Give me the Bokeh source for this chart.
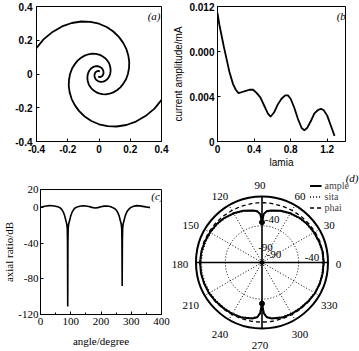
import numpy as np
from bokeh.plotting import figure
from bokeh.layouts import row, column
from bokeh.models import FixedTicker, Label, Legend, LegendItem, ColumnDataSource
from bokeh.core.properties import value
from bokeh.embed import file_html
from bokeh.resources import INLINE

# ---------------- data ----------------
# (a) two-arm spiral, read as radius per polar angle (second arm is the first turned by 180 deg)
spiral_angle_deg = list(range(0, -660, -10))
spiral_radius = [0.480, 0.455, 0.432, 0.410, 0.388, 0.368, 0.349, 0.331, 0.314, 0.298,
                 0.283, 0.268, 0.254, 0.241, 0.229, 0.217, 0.206, 0.195, 0.185, 0.176,
                 0.166, 0.158, 0.150, 0.142, 0.135, 0.128, 0.121, 0.115, 0.109, 0.103,
                 0.098, 0.093, 0.088, 0.083, 0.079, 0.075, 0.071, 0.068, 0.064, 0.061,
                 0.058, 0.055, 0.052, 0.049, 0.047, 0.044, 0.042, 0.040, 0.038, 0.036,
                 0.034, 0.032, 0.031, 0.029, 0.028, 0.026, 0.025, 0.024, 0.022, 0.021,
                 0.020, 0.019, 0.018, 0.017, 0.016, 0.015]
a_ticks = [-0.4, -0.2, 0, 0.2, 0.4]
a_tick_labels = ["-0.4", "-0.2", "0", "0.2", "0.4"]

# (b) current amplitude vs lamia
lamia = [0.00, 0.02, 0.04, 0.07, 0.10, 0.13, 0.17, 0.20, 0.23, 0.27, 0.31, 0.35, 0.39,
         0.43, 0.47, 0.51, 0.55, 0.58, 0.62, 0.66, 0.70, 0.74, 0.77, 0.80, 0.84, 0.88,
         0.92, 0.95, 0.98, 1.02, 1.06, 1.10, 1.13, 1.16, 1.20, 1.24, 1.28]
current_amp = [0.0114, 0.0104, 0.0096, 0.0084, 0.0073, 0.0062, 0.0051, 0.0046, 0.0043,
               0.0044, 0.0045, 0.0046, 0.0046, 0.0043, 0.0039, 0.0032, 0.0025, 0.0022,
               0.0026, 0.0033, 0.0038, 0.0041, 0.0041, 0.0038, 0.0030, 0.0020, 0.0012,
               0.0010, 0.0012, 0.0018, 0.0025, 0.0028, 0.0029, 0.0028, 0.0023, 0.0014,
               0.0005]
b_xticks = [0, 0.4, 0.8, 1.2]
b_xtick_labels = ["0", "0.4", "0.8", "1.2"]
b_yticks = [0, 0.004, 0.008, 0.012]
b_ytick_labels = ["0", "0.004", "0.000", "0.012"]

# (c) axial ratio vs angle
c_angle = [0, 10, 20, 30, 40, 50, 60, 66, 70, 75, 80, 84, 87, 88.5, 89.3, 90, 90.7, 91.5,
           93, 96, 100, 105, 110, 114, 120, 130, 140, 150, 160, 170, 180, 190, 200, 210,
           220, 230, 240, 245, 250, 255, 260, 264, 267, 268.5, 269.3, 270, 270.7, 271.5,
           273, 276, 280, 285, 290, 296, 302, 310, 318, 328, 338, 348, 356, 362]
c_axial_ratio = [0, 0.9, 1.6, 1.9, 1.8, 1.2, 0.3, -0.8, -2.2, -5, -9.5, -15, -19, -24, -40,
                 -111, -40, -24, -19, -15, -9.5, -5, -2.2, -0.8, 0.3, 1.3, 1.8, 1.6, 0.9,
                 0, -0.7, -0.3, 0.6, 1.4, 1.5, 0.9, -0.4, -1.4, -2.8, -5.5, -9.5, -15, -19,
                 -24, -40, -88, -40, -24, -19, -15, -9.5, -5.5, -2.8, -0.8, 0.5, 1.4, 1.9,
                 1.7, 1.1, 0.5, 0.1, -0.3]
c_xticks = [0, 100, 200, 300, 400]
c_xtick_labels = ["0", "100", "200", "300", "400"]
c_xminor = [50, 150, 250, 350]
c_yticks = [-120, -80, -40, 0, 20]
c_ytick_labels = ["-120", "-80", "-40", "0", "20"]

# (d) radiation pattern (dB) vs angle
d_angle = [0, 10, 20, 30, 40, 50, 60, 70, 80, 85, 88, 90, 92, 95, 100, 110, 120, 130, 140,
           150, 160, 170, 180, 190, 200, 210, 220, 230, 240, 250, 260, 265, 268, 270, 272,
           275, 280, 290, 300, 310, 320, 330, 340, 350, 360]
ample_db = [-6, -6, -7, -8, -9, -10.5, -12.5, -15, -18, -20, -24, -35, -24, -20, -18, -15,
            -12.5, -10.5, -9, -8, -7, -6, -5.5, -5.5, -6, -6.5, -7.5, -8.5, -9, -10, -12.5,
            -15, -21, -34, -21, -15, -12.5, -10, -9, -8.5, -7.5, -6.5, -6, -6, -6]
sita_db = [-6.8, -6.8, -7.8, -8.8, -9.8, -11.3, -13.3, -15.8, -18.8, -20.8, -25, -36, -25,
           -20.8, -18.8, -15.8, -13.3, -11.3, -9.8, -9, -8.3, -7.5, -7, -7, -7.5, -8, -8.8,
           -9.5, -9.8, -10.8, -13.3, -15.8, -21.8, -34.8, -21.8, -15.8, -13.3, -10.8, -9.8,
           -9.3, -8.3, -7.3, -6.8, -6.8, -6.8]
phai_db = [-5.5, -5.6, -6, -6.5, -7, -7.5, -8, -8.2, -8.4, -8.5, -8.5, -8.5, -8.5, -8.5,
           -8.4, -8.2, -8, -7.5, -7, -6.5, -6, -5.6, -5.5, -5.6, -6, -6.5, -7, -7.5, -8,
           -8.3, -8.6, -8.7, -8.8, -8.8, -8.8, -8.7, -8.6, -8.3, -8, -7.5, -7, -6.5, -6,
           -5.6, -5.5]
polar_angle_ticks = [0, 30, 60, 90, 120, 150, 180, 210, 240, 270, 300, 330]
polar_angle_labels = ["0", "30", "60", "90", "120", "150", "180", "210", "240", "270", "300", "330"]
polar_db_floor = -90
polar_db_ring = -40
polar_db_max = 0
radial_labels = ["-40", "-40", "-90", "-90"]

# ---------------- helpers ----------------
SANS = "Liberation Sans"
SERIF = "Liberation Serif"


def no_align(p):
    try:
        p.frame_align = False
    except Exception:
        pass


def base_fig(w, h, xr, yr, ml, mr, mt, mb):
    p = figure(width=w, height=h, x_range=xr, y_range=yr, output_backend="svg",
               toolbar_location=None, min_border_left=ml, min_border_right=mr,
               min_border_top=mt, min_border_bottom=mb)
    p.grid.visible = False
    p.outline_line_color = "black"
    p.outline_line_width = 1
    p.outline_line_alpha = 1
    p.background_fill_color = "white"
    p.border_fill_color = "white"
    no_align(p)
    return p


def style_axis(ax, ticks, labels, font, size, style, standoff, minor=None):
    ax.ticker = FixedTicker(ticks=ticks, minor_ticks=minor or [])
    ax.major_label_overrides = {t: l for t, l in zip(ticks, labels)}
    ax.major_tick_in = 3
    ax.major_tick_out = 0
    ax.minor_tick_in = 2 if minor else 0
    ax.minor_tick_out = 0
    ax.axis_line_color = "black"
    ax.major_tick_line_color = "black"
    ax.minor_tick_line_color = "black"
    ax.major_label_text_font = font
    ax.major_label_text_font_size = size
    ax.major_label_text_font_style = style
    ax.major_label_text_color = "black"
    ax.major_label_standoff = standoff
    ax.axis_label_text_font_style = "normal"
    ax.axis_label_text_color = "black"


def panel_tag(p, text, x, y):
    p.add_layout(Label(x=x, y=y, x_units="screen", y_units="screen", text=text,
                       text_font=SERIF, text_font_style="italic", text_font_size="11px",
                       text_align="right", text_baseline="middle", text_color="black"))


# ---------------- (a) ----------------
pa = base_fig(170, 170, (-0.4, 0.4), (-0.4, 0.4), 36, 9, 6, 29)
style_axis(pa.xaxis[0], a_ticks, a_tick_labels, SANS, "10px", "bold", 3)
style_axis(pa.yaxis[0], a_ticks, a_tick_labels, SANS, "10px", "bold", 4)
th = np.radians(spiral_angle_deg)
rr = np.array(spiral_radius)
pa.line(rr * np.cos(th), rr * np.sin(th), line_color="black", line_width=1.8)
pa.line(rr * np.cos(th + np.pi), rr * np.sin(th + np.pi), line_color="black", line_width=1.8)
panel_tag(pa, "(a)", 124, 126)

# ---------------- (b) ----------------
pb = base_fig(189, 170, (0, 1.4), (0, 0.012), 42, 14, 6, 29)
style_axis(pb.xaxis[0], b_xticks, b_xtick_labels, SANS, "10px", "bold", 3)
style_axis(pb.yaxis[0], b_yticks, b_ytick_labels, SANS, "10px", "bold", 3)
pb.xaxis.axis_label = "lamia"
pb.yaxis.axis_label = "current amplitude/mA"
for ax in (pb.xaxis[0], pb.yaxis[0]):
    ax.axis_label_text_font = SANS
    ax.axis_label_text_font_size = "10px"
pb.xaxis.axis_label_standoff = 1
pb.yaxis.axis_label_standoff = 2
pb.line(lamia, current_amp, line_color="black", line_width=1.8)
panel_tag(pb, "(b)", 132, 126)

# ---------------- (c) ----------------
pc = base_fig(171, 181, (0, 400), (-120, 20), 35, 10, 19, 37)
style_axis(pc.xaxis[0], c_xticks, c_xtick_labels, SERIF, "11px", "normal", 3, minor=c_xminor)
style_axis(pc.yaxis[0], c_yticks, c_ytick_labels, SERIF, "11px", "normal", 2)
pc.xaxis.axis_label = "angle/degree"
pc.yaxis.axis_label = "axial ratio/dB"
for ax in (pc.xaxis[0], pc.yaxis[0]):
    ax.axis_label_text_font = SERIF
    ax.axis_label_text_font_size = "11px"
pc.xaxis.axis_label_standoff = 7
pc.yaxis.axis_label_standoff = 0
pc.line(c_angle, c_axial_ratio, line_color="black", line_width=1.6)
panel_tag(pc, "(c)", 123, 119)

# ---------------- (d) ----------------
# 0.7333 px per dB-unit; the polar centre sits 90.5 px from the left and 92 px from the top
pd = figure(width=188, height=181, x_range=(-123.4, 132.95), y_range=(-121.4, 125.45),
            output_backend="svg", toolbar_location=None, x_axis_location=None,
            y_axis_location=None, min_border=0)
no_align(pd)
pd.grid.visible = False
pd.outline_line_color = None
pd.background_fill_color = "white"
pd.border_fill_color = "white"

r_max = polar_db_max - polar_db_floor
r_ring = polar_db_ring - polar_db_floor
pd.circle(x=[0], y=[0], radius=[r_ring], fill_color=None, line_color="black",
          line_width=1, line_dash="1 2")
sp_th = np.radians(polar_angle_ticks)
major = [a % 90 == 0 for a in polar_angle_ticks]
xs_end = r_max * np.cos(sp_th)
ys_end = r_max * np.sin(sp_th)
n_minor = sum(not m for m in major)
pd.segment(x0=[0] * n_minor, y0=[0] * n_minor,
           x1=[x for x, m in zip(xs_end, major) if not m],
           y1=[y for y, m in zip(ys_end, major) if not m],
           line_color="black", line_width=1, line_dash="1 2")
pd.segment(x0=[0] * sum(major), y0=[0] * sum(major),
           x1=[x for x, m in zip(xs_end, major) if m],
           y1=[y for y, m in zip(ys_end, major) if m],
           line_color="black", line_width=1.6)
pd.circle(x=[0], y=[0], radius=[r_max], fill_color=None, line_color="black", line_width=2)


def polar_xy(db):
    r = np.clip(np.array(db, dtype=float) - polar_db_floor, 0, None)
    t = np.radians(d_angle)
    return r * np.cos(t), r * np.sin(t)


px_, py_ = polar_xy(phai_db)
r_phai = pd.line(px_, py_, line_color="black", line_width=1.3, line_dash="4 3")
sx_, sy_ = polar_xy(sita_db)
r_sita = pd.line(sx_, sy_, line_color="black", line_width=1.3, line_dash="1 2")
ax_, ay_ = polar_xy(ample_db)
r_ample = pd.line(ax_, ay_, line_color="black", line_width=2)
notch = [i for i, a in enumerate(d_angle) if a in (90, 270)]
pd.scatter([ax_[i] for i in notch], [ay_[i] for i in notch], size=5, color="black")
pd.scatter([0], [0], size=4, color="black")

lab_align = ["left" if a == 0 else "right" if a == 180 else "center" for a in polar_angle_ticks]
lab_r = np.array([100.5 if a in (0, 180) else 109 for a in polar_angle_ticks])
lab_xoff = [0 if a in (0, 180) else -2 for a in polar_angle_ticks]
lab_yoff = [2 if a in (0, 180) else 3 for a in polar_angle_ticks]
lab_src = ColumnDataSource(dict(
    x=lab_r * np.cos(sp_th), y=lab_r * np.sin(sp_th), text=polar_angle_labels,
    align=lab_align, xoff=lab_xoff, yoff=lab_yoff))
pd.text(x="x", y="y", text="text", source=lab_src, text_font=value(SERIF),
        text_font_size="11px", text_align="align", text_baseline="middle",
        x_offset="xoff", y_offset="yoff", text_color="black")

rl_angle = np.radians([76.6, 5.4, 76.6, 34.0])
rl_r = np.array([59.8, 68.5, 20.7, 19.5])
rl_src = ColumnDataSource(dict(x=rl_r * np.cos(rl_angle), y=rl_r * np.sin(rl_angle),
                               text=radial_labels))
pd.text(x="x", y="y", text="text", source=rl_src, text_font=value(SERIF),
        text_font_size="11px", text_align="center", text_baseline="middle",
        text_color="black")

legend = Legend(items=[LegendItem(label="ample", renderers=[r_ample]),
                       LegendItem(label="sita", renderers=[r_sita]),
                       LegendItem(label="phai", renderers=[r_phai])],
                location="top_right", margin=10, padding=0, spacing=0,
                glyph_width=12, glyph_height=7, label_height=7, label_standoff=3,
                label_text_font=SERIF, label_text_font_size="10px",
                border_line_color=None, background_fill_alpha=0)
pd.add_layout(legend)
panel_tag(pd, "(d)", 187, 174)

layout = column(row(pa, pb), row(pc, pd))
open("out.html", "w").write(file_html(layout, INLINE, "antenna figure"))
